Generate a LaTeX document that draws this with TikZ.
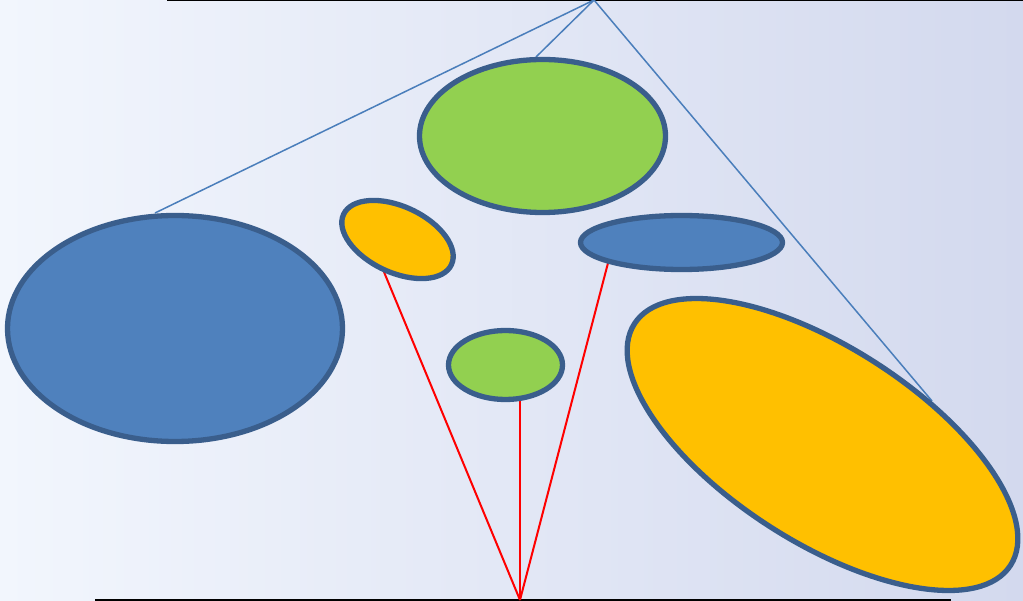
\documentclass[tikz,border=0pt]{standalone}
\usetikzlibrary{shapes.geometric}
\definecolor{bgL}{HTML}{F2F6FD}
\definecolor{bgR}{HTML}{D3D9EE}
\definecolor{outl}{HTML}{3A5E8C}
\definecolor{fblue}{HTML}{4F81BD}
\definecolor{fgreen}{HTML}{92D050}
\definecolor{forange}{HTML}{FFC000}
\definecolor{conblue}{HTML}{4A7EBB}
\tikzset{
  blob/.style={ellipse, draw=outl, line width=5.3pt, inner sep=0pt, outer sep=0pt},
  bluecon/.style={draw=conblue, line width=1.5pt},
  redcon/.style={draw=red, line width=2pt},
  baseline/.style={draw=black, line width=2pt}
}
\begin{document}
\begin{tikzpicture}[x=1pt,y=-1pt]
\useasboundingbox (0,0) rectangle (1023,601);
\shade[left color=bgL, right color=bgR] (0,0) rectangle (1023,601);
% base lines
\coordinate (tl) at (167,0);
\coordinate (tr) at (1023,0);
\coordinate (bl) at (95,600);
\coordinate (br) at (951,600);
\draw[baseline] (tl) -- (tr);
\draw[baseline] (bl) -- (br);
% apex and bottom point
\coordinate (apex) at (594,0);
\coordinate (bot) at (520,600);
% end points on the ellipses
\coordinate (e1) at (155,213);
\coordinate (e2) at (536,57);
\coordinate (e3) at (932,401);
\coordinate (r1) at (384,272);
\coordinate (r2) at (520,401);
\coordinate (r3) at (608,263);
% connectors
\draw[bluecon] (apex) -- (e1);
\draw[bluecon] (apex) -- (e2);
\draw[bluecon] (apex) -- (e3);
\draw[redcon] (bot) -- (r1);
\draw[redcon] (bot) -- (r2);
\draw[redcon] (bot) -- (r3);
% ellipses
\node[blob, fill=fblue, minimum width=335pt, minimum height=226pt] (bigblue) at (175,328.5) {};
\node[blob, fill=fgreen, minimum width=246pt, minimum height=153pt] (topgreen) at (542.5,136) {};
\node[blob, fill=forange, minimum width=119pt, minimum height=66pt, rotate=-25] (smallorange) at (397.5,239.5) {};
\node[blob, fill=fblue, minimum width=202pt, minimum height=54pt] (flatblue) at (681.5,242.5) {};
\node[blob, fill=fgreen, minimum width=114pt, minimum height=69pt] (smallgreen) at (505.5,365) {};
\node[blob, fill=forange, minimum width=447pt, minimum height=195pt, rotate=-32.7] (bigorange) at (822.5,444.5) {};
\end{tikzpicture}
\end{document}
